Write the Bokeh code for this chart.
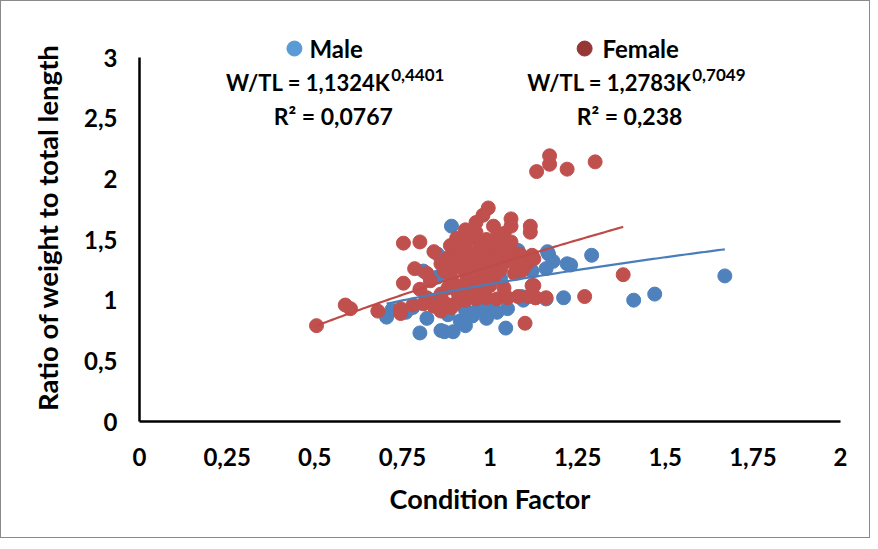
from bokeh.plotting import figure
from bokeh.models import Range1d, FixedTicker
from bokeh.core.properties import value
from bokeh.embed import file_html
from bokeh.resources import INLINE
import numpy as np

# ---------------- data ----------------
male_k = [0.705, 0.72, 0.80, 0.82, 0.86, 0.87, 0.915, 0.93, 1.045, 1.05, 0.967, 1.00,
          1.03, 1.076, 1.167, 1.16, 1.09, 1.16, 0.96, 0.81, 0.85, 0.89, 0.85, 1.21,
          1.22, 1.29, 1.41, 1.47, 1.67, 1.18, 1.164, 1.23, 0.90, 0.95, 0.98, 0.88,
          0.84, 0.93, 1.02, 0.99, 0.95, 1.12, 1.08, 0.78, 0.76, 1.08, 1.095, 0.895,
          0.925, 1.08]
male_w = [0.86, 0.92, 0.73, 0.85, 0.75, 0.74, 0.83, 0.79, 0.77, 0.93, 0.93, 0.95,
          1.18, 1.38, 1.38, 1.26, 1.03, 1.01, 1.29, 1.24, 1.19, 1.61, 1.38, 1.02,
          1.30, 1.37, 1.00, 1.05, 1.20, 1.32, 1.40, 1.29, 1.10, 1.05, 1.15, 0.88,
          1.00, 0.92, 0.90, 0.85, 0.87, 1.24, 1.28, 0.94, 0.90, 1.41, 1.00, 0.74,
          0.81, 1.26]

female_k = [0.505, 0.587, 0.602, 0.68, 0.745, 0.745, 0.753, 0.753, 0.80, 0.785, 0.80,
            0.84, 0.86, 0.82, 0.83, 0.78, 0.81, 0.84, 0.87, 0.90, 0.93, 0.96, 0.99,
            1.02, 1.05, 1.08, 1.11, 1.13, 1.16, 0.86, 0.88, 0.89, 0.87, 0.90, 0.905,
            0.887, 0.91, 0.92, 0.93, 0.94, 0.93, 0.95, 0.96, 0.95, 0.96, 0.97, 0.97,
            0.98, 0.995, 0.98, 0.99, 1.00, 1.00, 1.01, 1.01, 1.02, 1.02, 1.03, 1.03,
            1.04, 1.04, 1.05, 1.05, 1.06, 1.06, 1.06, 1.07, 1.07, 1.08, 1.085, 1.09,
            1.105, 1.115, 1.115, 1.125, 1.125, 1.13, 1.10, 1.133, 1.17, 1.17, 1.22,
            1.30, 1.27, 1.38, 0.94, 0.92, 0.97, 1.00, 0.91, 0.89, 0.86, 0.82, 0.88,
            0.92, 0.94, 0.99, 1.01, 0.96, 0.93, 1.00, 1.12, 1.09, 1.095, 1.12]
female_w = [0.79, 0.96, 0.93, 0.91, 0.93, 0.89, 1.14, 1.47, 1.48, 1.26, 1.09,
            1.40, 1.30, 1.22, 1.16, 0.96, 0.97, 0.95, 0.98, 0.97, 1.00, 1.01, 1.02,
            1.01, 1.02, 1.03, 1.03, 1.02, 1.02, 1.05, 1.10, 1.18, 1.24, 1.27, 1.51,
            1.45, 1.40, 1.33, 1.22, 1.15, 1.47, 1.52, 1.56, 1.38, 1.30, 1.45, 1.20,
            1.70, 1.76, 1.35, 1.50, 1.42, 1.28, 1.61, 1.18, 1.52, 1.37, 1.45, 1.25,
            1.55, 1.10, 1.40, 1.32, 1.67, 1.61, 1.48, 1.38, 1.22, 1.30, 1.38, 1.24,
            1.30, 1.61, 1.56, 1.34, 1.12, 1.02, 0.81, 2.06, 2.19, 2.12, 2.08,
            2.14, 1.03, 1.21, 1.08, 1.12, 1.10, 1.12, 1.05, 0.94, 0.91, 1.02, 1.35,
            1.42, 1.27, 1.22, 1.33, 1.64, 1.58, 1.48, 1.37, 1.36, 1.26, 1.12]

# power trendlines  W/TL = a * K^b
male_a, male_b = 1.1324, 0.4401
female_a, female_b = 1.2783, 0.7049

x_ticks = [0, 0.25, 0.5, 0.75, 1, 1.25, 1.5, 1.75, 2]
x_tick_labels = ["0", "0,25", "0,5", "0,75", "1", "1,25", "1,5", "1,75", "2"]
y_ticks = [0, 0.5, 1, 1.5, 2, 2.5, 3]
y_tick_labels = ["0", "0,5", "1", "1,5", "2", "2,5", "3"]

x_title = "Condition Factor"
y_title = "Ratio of weight to total length"
series_names = ["Male", "Female"]
eq_texts = ["W/TL = 1,1324K", "W/TL = 1,2783K"]
eq_exps = ["0,4401", "0,7049"]
r2_texts = ["R\u00b2 = 0,0767", "R\u00b2 = 0,238"]

# ---------------- styling ----------------
FONT = "Lato"
MALE_C = "#4F81BD"
FEMALE_C = "#C0504D"
LEG_COLORS = ["#5B9BD5", "#953735"]

p = figure(width=870, height=538, output_backend="svg", toolbar_location=None,
           x_range=Range1d(0, 2), y_range=Range1d(0, 3.198),
           min_border_left=138, min_border_right=31, min_border_top=32,
           min_border_bottom=118)
p.styles = {"border": "1px solid #8a8a8a", "box-sizing": "border-box"}
p.outline_line_color = None
p.xgrid.visible = False
p.ygrid.visible = False
p.background_fill_color = "white"
p.border_fill_color = "white"

for ax, ticks, labels in ((p.xaxis[0], x_ticks, x_tick_labels),
                          (p.yaxis[0], y_ticks, y_tick_labels)):
    ax.ticker = FixedTicker(ticks=ticks)
    ax.major_label_overrides = {t: l for t, l in zip(ticks, labels)}
    ax.major_tick_line_color = None
    ax.minor_tick_line_color = None
    ax.axis_line_color = "black"
    ax.axis_line_width = 2.5
    ax.major_label_text_font = FONT
    ax.major_label_text_font_style = "bold"
    ax.major_label_text_font_size = "24px"
    ax.major_label_text_color = "black"
    ax.axis_label_text_font = FONT
    ax.axis_label_text_font_style = "bold"
    ax.axis_label_text_color = "black"

p.xaxis.axis_label = x_title
p.yaxis.axis_label = y_title
p.xaxis.axis_label_text_font_size = "27px"
p.yaxis.axis_label_text_font_size = "27.5px"
p.yaxis.bounds = (0, 3)
p.xaxis.bounds = (0, 2)
p.xaxis.major_label_standoff = 20
p.yaxis.major_label_standoff = 16
p.xaxis.axis_label_standoff = 13
p.yaxis.axis_label_standoff = 17

# points
p.scatter(male_k, male_w, size=14, color=MALE_C, line_color=MALE_C)
p.scatter(female_k, female_w, size=14, color=FEMALE_C, line_color=FEMALE_C)

# trendlines over each series' range
mk = np.linspace(min(male_k), max(male_k), 100)
fk = np.linspace(min(female_k), max(female_k), 100)
p.line(mk, male_a * mk ** male_b, line_color="#4A7EBB", line_width=2.2)
p.line(fk, female_a * fk ** female_b, line_color="#BE4B48", line_width=2.2)

# legend + equations (positions in data units of the chart area)
p.scatter([0.442, 1.270], [3.074, 3.074], size=15, color=LEG_COLORS, line_color=LEG_COLORS)
txt = dict(text_font=value(FONT), text_font_style="bold", text_color="black",
           text_baseline="middle")
p.text([0.485, 1.321], [3.074, 3.074], text=series_names, text_font_size="24px",
       text_align="left", **txt)
p.text([0.716, 1.575], [2.794, 2.794], text=eq_texts, text_font_size="22px",
       text_align="right", **txt)
p.text([0.718, 1.577], [2.852, 2.852], text=eq_exps, text_font_size="17px",
       text_align="left", **txt)
p.text([0.553, 1.398], [2.522, 2.522], text=r2_texts, text_font_size="23px",
       text_align="center", **txt)

open("out.html", "w").write(file_html(p, INLINE))
